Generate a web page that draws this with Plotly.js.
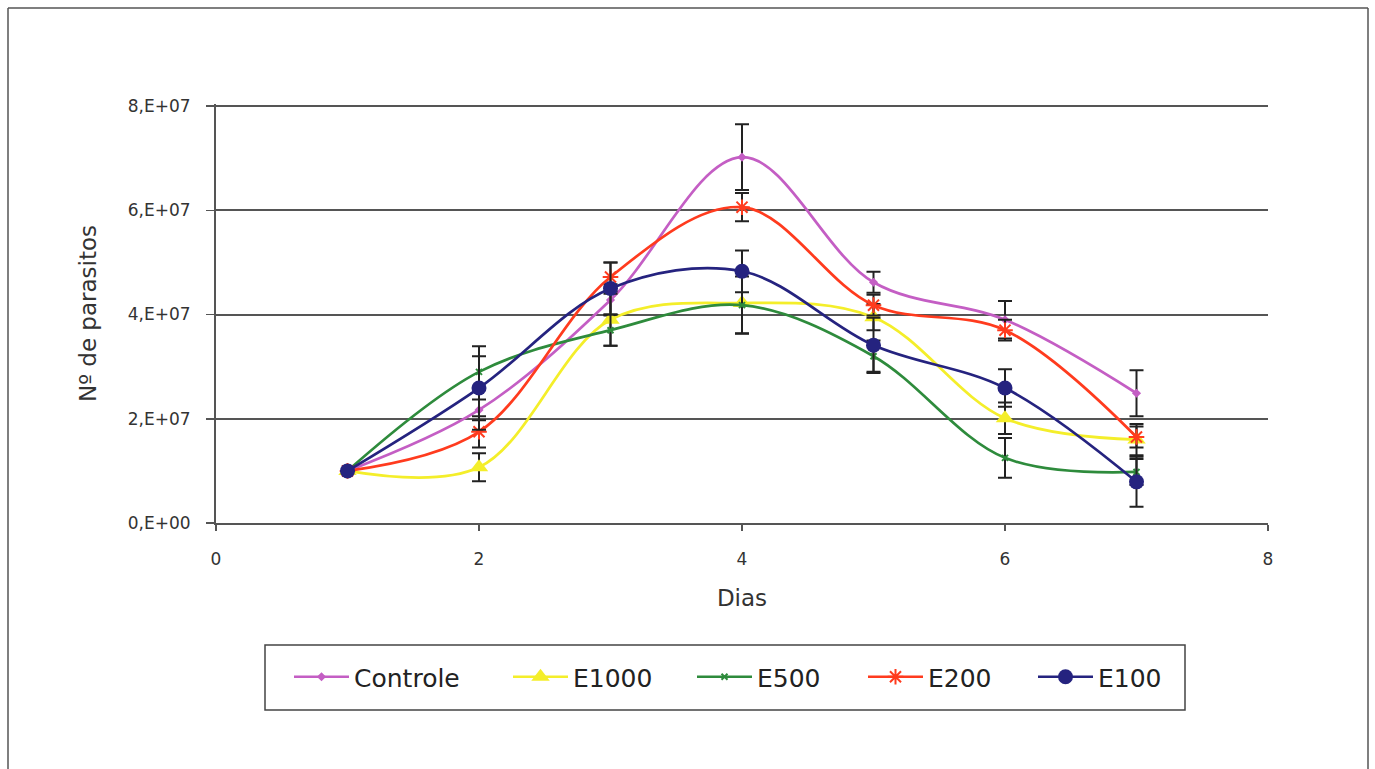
<!DOCTYPE html>
<html>
<head>
<meta charset="utf-8">
<script src="https://cdn.plot.ly/plotly-3.0.1.min.js"></script>
<style>html,body{margin:0;padding:0;background:#fff;}#chart{width:1375px;height:769px;}</style>
</head>
<body>
<div id="chart"></div>
<script>
const days = [1, 2, 3, 4, 5, 6, 7];
const controle = [1.0e7, 2.17e7, 4.28e7, 7.02e7, 4.62e7, 3.90e7, 2.49e7];
const controleErr = [0, 0.2e7, 0.3e7, 0.63e7, 0.2e7, 0.36e7, 0.44e7];
const e1000 = [1.0e7, 1.07e7, 3.90e7, 4.22e7, 3.95e7, 2.01e7, 1.60e7];
const e1000Err = [0, 0.27e7, 0.5e7, 0.58e7, 0.25e7, 0.3e7, 0.3e7];
const e500 = [1.0e7, 2.90e7, 3.70e7, 4.18e7, 3.20e7, 1.25e7, 0.98e7];
const e500Err = [0, 0.3e7, 0.3e7, 0.55e7, 0.3e7, 0.38e7, 0.25e7];
const e200 = [1.0e7, 1.75e7, 4.72e7, 6.06e7, 4.18e7, 3.70e7, 1.65e7];
const e200Err = [0, 0.3e7, 0.28e7, 0.27e7, 0.2e7, 0.2e7, 0.2e7];
const e100 = [1.0e7, 2.59e7, 4.50e7, 4.83e7, 3.41e7, 2.59e7, 0.79e7];
const e100Err = [0, 0.8e7, 0.5e7, 0.4e7, 0.53e7, 0.36e7, 0.48e7];
const seriesNames = ['Controle', 'E1000', 'E500', 'E200', 'E100'];
const yTickVals = [0, 2e7, 4e7, 6e7, 8e7];
const yTickText = ['0,E+00', '2,E+07', '4,E+07', '6,E+07', '8,E+07'];
const xTickVals = [0, 2, 4, 6, 8];

// pixel geometry helpers (layout only)
const PL = 216, PR = 1268, PT = 104, PB = 523;
const W = PR - PL, H = PB - PT;
const px = x => (x - PL) / W;
const py = y => (PB - y) / H;
const FONT = 'DejaVu Sans, Liberation Sans, Arial, sans-serif';

function mk(name, y, err, color, symbol, size, mline, leg) {
  return {
    x: days, y: y, name: name, type: 'scatter', mode: 'lines+markers', legend: leg,
    line: {color: color, width: 2.7, shape: 'spline', smoothing: 1},
    marker: {color: color, symbol: symbol, size: size, line: {color: color, width: mline}},
    error_y: {type: 'data', array: err, visible: true, color: '#222', thickness: 2, width: 7}
  };
}
const traces = [
  mk(seriesNames[0], controle, controleErr, '#C45EC4', 'diamond', 7, 0, 'legend'),
  mk(seriesNames[1], e1000, e1000Err, '#F4EE2A', 'triangle-up', 16, 0, 'legend2'),
  mk(seriesNames[2], e500, e500Err, '#2E8B3C', 'x-thin-open', 6, 2, 'legend3'),
  mk(seriesNames[3], e200, e200Err, '#FF3B1E', 'asterisk-open', 13, 2, 'legend4'),
  mk(seriesNames[4], e100, e100Err, '#25237F', 'circle', 15, 0, 'legend5')
];

function leg(xpx) {
  return {
    orientation: 'h', x: px(xpx), y: py(677), xanchor: 'left', yanchor: 'middle',
    font: {size: 25, color: '#222', family: FONT}, itemwidth: 55,
    bgcolor: 'rgba(0,0,0,0)', borderwidth: 0
  };
}

const layout = {
  width: 1375, height: 769,
  margin: {l: PL, r: 1375 - PR, t: PT, b: 769 - PB},
  paper_bgcolor: '#fff', plot_bgcolor: '#fff',
  font: {family: FONT, color: '#333'},
  showlegend: true,
  legend: leg(289), legend2: leg(508), legend3: leg(692), legend4: leg(863), legend5: leg(1033),
  xaxis: {
    range: [0, 8], tickvals: xTickVals, ticktext: xTickVals.map(String),
    showgrid: false, zeroline: false, showline: true, linecolor: '#555', linewidth: 2,
    ticks: 'outside', ticklen: 6, tickwidth: 1.5, tickcolor: '#555',
    ticklabelstandoff: 14,
    tickfont: {size: 17, color: '#333'},
    title: {text: 'Dias', font: {size: 23, color: '#333'}, standoff: 21}
  },
  yaxis: {
    range: [0, 8.04e7], tickvals: yTickVals, ticktext: yTickText,
    showgrid: true, gridcolor: '#555', gridwidth: 2, zeroline: false,
    showline: true, linecolor: '#555', linewidth: 2,
    ticks: 'outside', ticklen: 8, tickwidth: 1.5, tickcolor: '#555',
    ticklabelstandoff: 12,
    tickfont: {size: 17, color: '#333'},
    title: {text: 'Nº de parasitos', font: {size: 23, color: '#333'}, standoff: 25}
  },
  shapes: [
    {type: 'rect', xref: 'paper', yref: 'paper', x0: px(265), x1: px(1185),
     y0: py(710), y1: py(645), line: {color: '#444', width: 1.5}},
    {type: 'line', xref: 'paper', yref: 'paper', x0: px(8), x1: px(8),
     y0: py(775), y1: py(8), line: {color: '#555', width: 1.5}},
    {type: 'line', xref: 'paper', yref: 'paper', x0: px(8), x1: px(1368),
     y0: py(8), y1: py(8), line: {color: '#555', width: 1.5}},
    {type: 'line', xref: 'paper', yref: 'paper', x0: px(1368), x1: px(1368),
     y0: py(775), y1: py(8), line: {color: '#555', width: 1.5}}
  ]
};
Plotly.newPlot('chart', traces, layout, {displayModeBar: false, staticPlot: true});
</script>
</body>
</html>
